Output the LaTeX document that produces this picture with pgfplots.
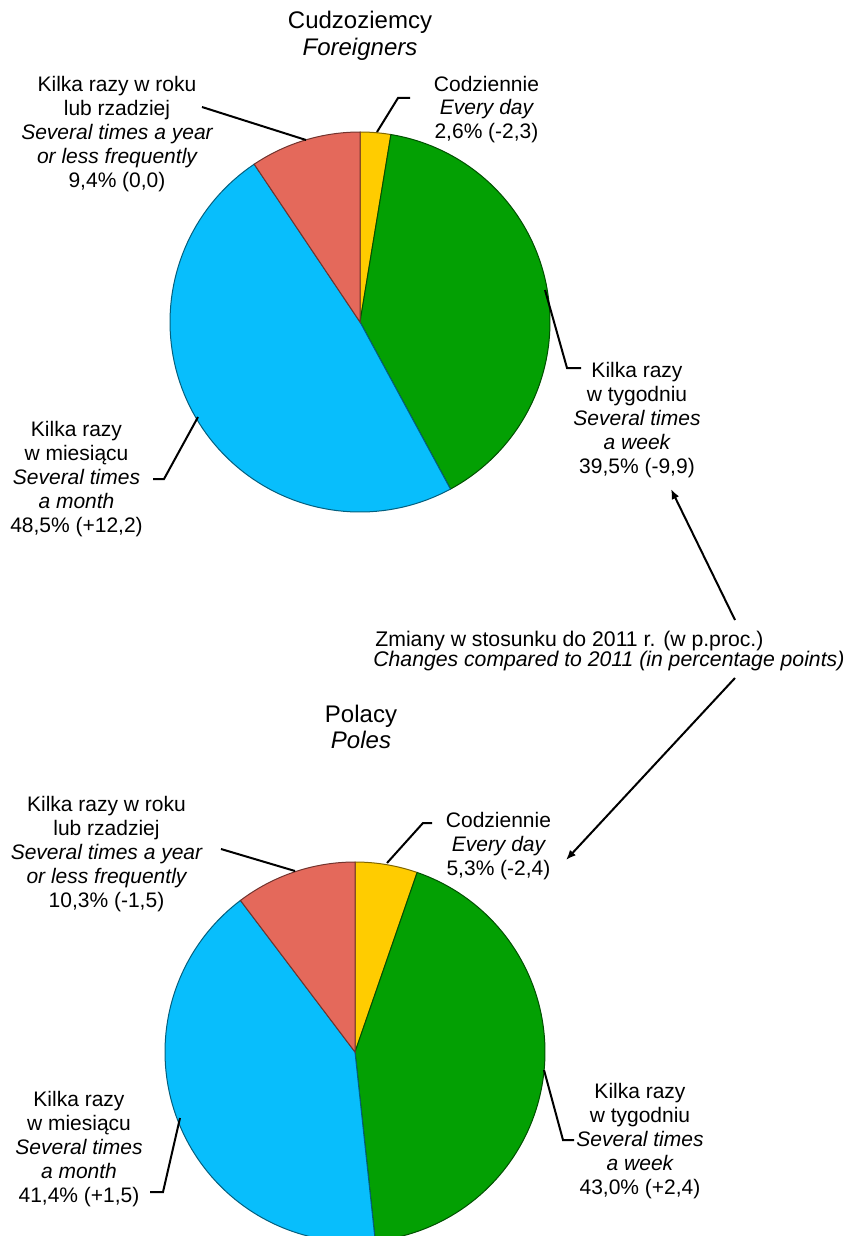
\documentclass[border=0pt]{standalone}
\usepackage{fontspec}
\setmainfont{Liberation Sans}
\usepackage{pgfplots}
\pgfplotsset{compat=1.18}
\usepgfplotslibrary{polar}
\usetikzlibrary{arrows.meta}
\definecolor{cyel}{HTML}{FFCC00}
\definecolor{cgrn}{HTML}{03A003}
\definecolor{cblu}{HTML}{08BEFC}
\definecolor{cred}{HTML}{E4695B}
% one slice: start and end as cumulative percentages, clockwise from 12 o'clock
\newcommand{\pieslice}[3]{%
  \addplot[draw=#3!50!black, line width=0.5pt, fill=#3,
    domain={90-3.6*(#2)}:{90-3.6*(#1)}, samples=90] {1} -- (axis cs:0,0) -- cycle;}
\pgfplotsset{pieaxis/.style={scale only axis, width=190pt, height=190pt,
  ymin=0, ymax=1, hide axis, clip=false, anchor=origin}}
\newcommand{\lbl}[4]{%
  \foreach \t [count=\i from 0] in {#4} {%
    \node[anchor=base, inner sep=0pt, font=\fontsize{10.5}{12}\selectfont] at (#1,{#2+#3*\i}) {\t};}}
\begin{document}
\begin{tikzpicture}[x=0.5pt,y=-0.5pt]
\useasboundingbox (0,0) rectangle (852,1236);
% ---- Foreigners
\begin{polaraxis}[pieaxis, at={(180pt,-161pt)}]
  \pieslice{0}{2.6}{cyel}
  \pieslice{2.6}{42.1}{cgrn}
  \pieslice{42.1}{90.6}{cblu}
  \pieslice{90.6}{100}{cred}
\end{polaraxis}
% ---- Poles
\begin{polaraxis}[pieaxis, at={(177.5pt,-526pt)}]
  \pieslice{0}{5.3}{cyel}
  \pieslice{5.3}{48.3}{cgrn}
  \pieslice{48.3}{89.7}{cblu}
  \pieslice{89.7}{100}{cred}
\end{polaraxis}
% titles
\node[anchor=base, inner sep=0pt, font=\fontsize{12}{13}\selectfont] at (360,29) {Cudzoziemcy};
\node[anchor=base, inner sep=0pt, font=\fontsize{12}{13}\selectfont\itshape] at (360,56) {Foreigners};
\node[anchor=base, inner sep=0pt, font=\fontsize{12}{13}\selectfont] at (361,722) {Polacy};
\node[anchor=base, inner sep=0pt, font=\fontsize{12}{13}\selectfont\itshape] at (361,748) {Poles};
% labels top
\lbl{117}{91}{24.2}{{Kilka razy w roku},{lub rzadziej},{\itshape Several times a year},{\itshape or less frequently},{9,4\% (0,0)}}
\lbl{486.5}{91}{24}{{Codziennie},{\itshape Every day},{2,6\% (-2,3)}}
\lbl{637}{377}{24}{{Kilka razy},{w tygodniu},{\itshape Several times},{\itshape a week},{39,5\% (-9,9)}}
\lbl{76.5}{436}{24.2}{{Kilka razy},{w miesiącu},{\itshape Several times},{\itshape a month},{48,5\% (+12,2)}}
% labels bottom
\lbl{106.5}{811}{24.2}{{Kilka razy w roku},{lub rzadziej},{\itshape Several times a year},{\itshape or less frequently},{10,3\% (-1,5)}}
\lbl{498.5}{827}{24}{{Codziennie},{\itshape Every day},{5,3\% (-2,4)}}
\lbl{640}{1098}{24.2}{{Kilka razy},{w tygodniu},{\itshape Several times},{\itshape a week},{43,0\% (+2,4)}}
\lbl{79}{1106}{24.2}{{Kilka razy},{w miesiącu},{\itshape Several times},{\itshape a month},{41,4\% (+1,5)}}
% middle note
\node[anchor=base west, inner sep=0pt, font=\fontsize{10.6}{12}\selectfont] at (375,646) {Zmiany w stosunku do 2011 r. (w p.proc.)};
\node[anchor=base west, inner sep=0pt, font=\fontsize{10.6}{12}\selectfont\itshape] at (373,666) {Changes compared to 2011 (in percentage points)};
% leader lines
\begin{scope}[line width=1pt, line join=miter]
\draw (410,98) -- (398,98) -- (377,132);
\draw (202,107) -- (306,140);
\draw (545,290) -- (567,368) -- (581,368);
\draw (198,417) -- (164,479) -- (153,479);
\draw (221,849) -- (295,871);
\draw (432,823) -- (423,823) -- (387,863);
\draw (544,1070) -- (563,1140) -- (574,1140);
\draw (180,1118) -- (163,1192) -- (150,1192);
\draw[-{Latex[length=5pt,width=4pt]}] (735,620) -- (671,489);
\draw[-{Latex[length=5pt,width=4pt]}] (735,678) -- (566,860);
\end{scope}
\end{tikzpicture}
\end{document}
